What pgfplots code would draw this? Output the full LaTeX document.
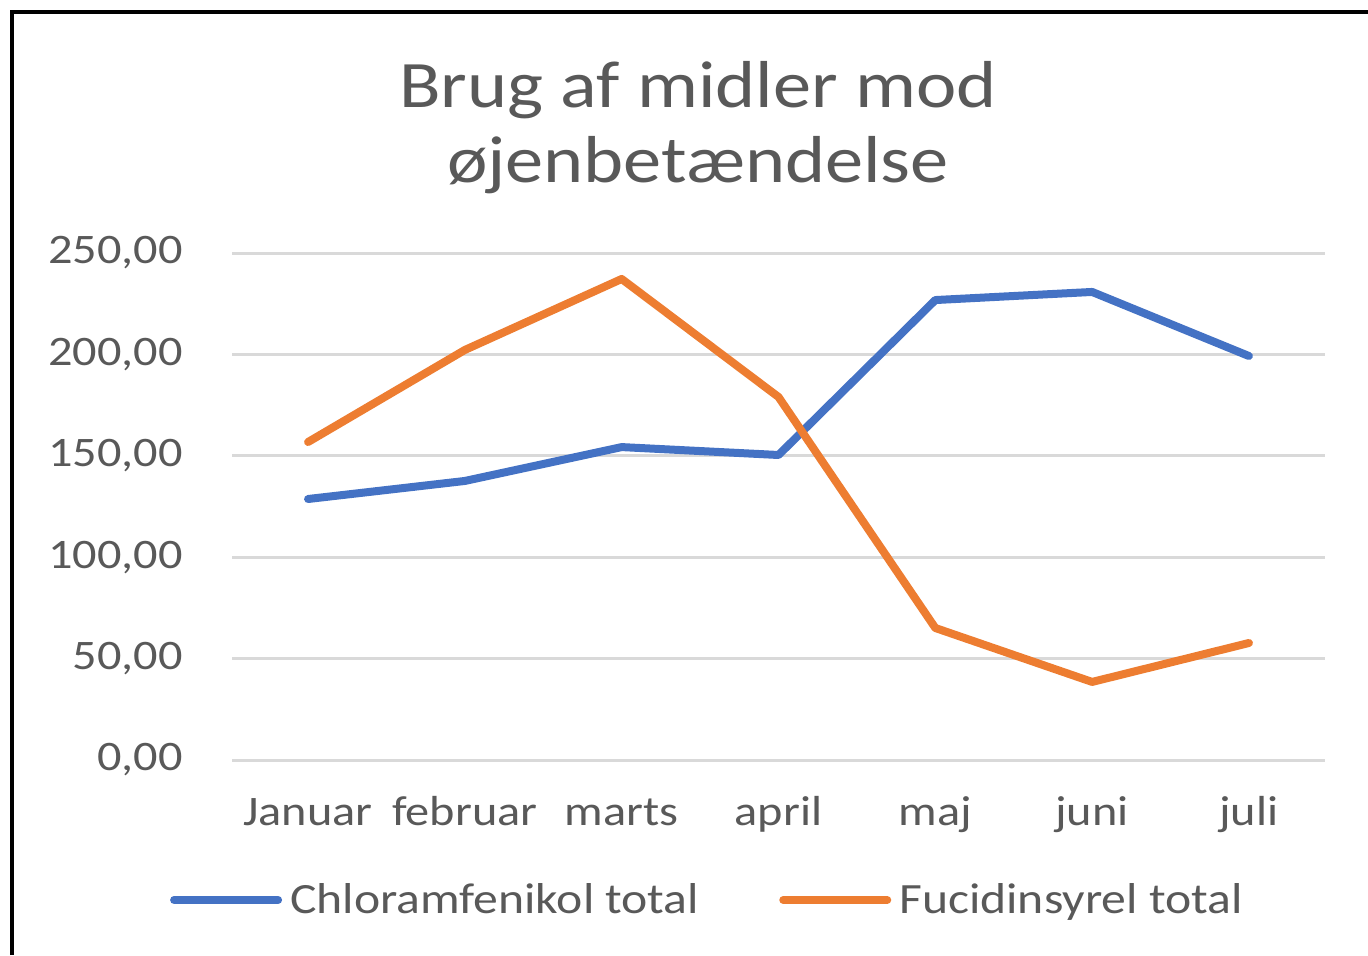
\documentclass[border=0pt]{standalone}
\usepackage{pgfplots}
\pgfplotsset{compat=1.18}
\usepackage{fontspec}
\setmainfont{Carlito}[FakeStretch=1.15]
\definecolor{txtgray}{HTML}{595959}
\definecolor{gridgray}{HTML}{D9D9D9}
\definecolor{cblue}{HTML}{4472C4}
\definecolor{corange}{HTML}{ED7D31}
\begin{document}
\begin{tikzpicture}[x=1pt,y=1pt]
\useasboundingbox (0,0) rectangle (684,477.5);
\draw[line width=1.8pt, black] (6,0) -- (6,471.5) -- (684,471.5);
\node[anchor=base, inner sep=0pt, text=txtgray, font=\fontsize{33.2}{38}\selectfont] at (349,423.5) {Brug af midler mod};
\node[anchor=base, inner sep=0pt, text=txtgray, font=\fontsize{33.2}{38}\selectfont] at (349,386) {øjenbetændelse};
\begin{axis}[
  at={(116pt,97.5pt)}, anchor=south west,
  scale only axis, width=546.5pt, height=253.5pt,
  xmin=-0.485, xmax=6.485, ymin=0, ymax=250,
  ytick={0,50,...,250},
  xtick={0,...,6},
  xticklabels={Januar,februar,marts,april,maj,juni,juli},
  axis line style={draw=none},
  major tick length=0pt,
  ymajorgrids,
  grid style={draw=gridgray, line width=1.5pt},
  clip=false,
  /pgf/number format/.cd, fixed, fixed zerofill, precision=2, use comma, 1000 sep={}, assume math mode=true,
  /pgfplots/.cd,
  ticklabel style={text=txtgray, font=\fontsize{21}{24}\selectfont, inner sep=0pt},
  yticklabel style={anchor=east, xshift=-24.5pt},
  xticklabel style={anchor=base, yshift=-32.5pt},
  legend columns=2,
  legend style={at={(-0.057,-0.276)}, anchor=west, draw=none, fill=none, inner sep=0pt,
    nodes={inner sep=0pt, text=txtgray, font=\fontsize{21.6}{24}\selectfont},
    /tikz/every odd column/.append style={column sep=4pt},
    /tikz/every even column/.append style={column sep=40pt}},
  legend image code/.code={\draw[#1, line width=4pt, line cap=round] (2pt,0pt) -- (54pt,0pt);},
]
\addplot[cblue, line width=4pt, line join=round, line cap=round] coordinates {
 (0,128.7) (1,137.6) (2,154.3) (3,150.4) (4,226.8) (5,230.8) (6,199.2)};
\addlegendentry{Chloramfenikol total}
\addplot[corange, line width=4pt, line join=round, line cap=round] coordinates {
 (0,156.8) (1,202.2) (2,237.2) (3,179.0) (4,65.1) (5,38.5) (6,57.7)};
\addlegendentry{Fucidinsyrel total}
\end{axis}
\end{tikzpicture}
\end{document}
